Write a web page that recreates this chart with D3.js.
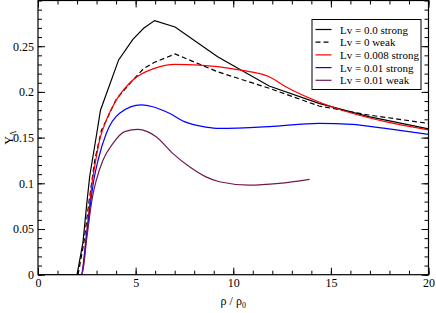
<!DOCTYPE html>
<html>
<head>
<meta charset="utf-8">
<script src="https://cdn.jsdelivr.net/npm/d3@7"></script>
<style>
  body { margin: 0; background: white; }
  text { font-family: "Liberation Serif", "Times New Roman", serif; }
</style>
</head>
<body>
<div id="chart"></div>
<script>
// curves: [rho/rho0, Y_Lambda]
const lv0Strong = [[0,0],[2.0,0],[2.3,0.035],[2.5,0.078],[2.65,0.108],[2.99,0.152],[3.2,0.18],[4.13,0.235],[4.86,0.2575],[5.41,0.2696],[5.97,0.278],[7.02,0.271],[9.2,0.2385],[11.84,0.2065],[14.39,0.1875],[16.94,0.173],[20,0.1595]];
const lv0Weak = [[0,0],[2.05,0],[2.35,0.035],[2.6,0.078],[2.91,0.1255],[3.25,0.158],[3.67,0.1766],[4.01,0.192],[4.86,0.213],[5.41,0.2255],[5.97,0.2324],[7.02,0.2415],[9.2,0.222],[11.84,0.204],[14.39,0.1846],[16.94,0.1747],[20,0.1655]];
const lv008Strong = [[0,0],[2.2,0],[2.5,0.048],[2.79,0.1036],[2.96,0.1255],[3.16,0.1474],[3.5,0.169],[4.01,0.191],[4.86,0.213],[5.97,0.2258],[7.02,0.2302],[8.27,0.2294],[9.2,0.2276],[10.3,0.224],[11.84,0.2166],[12.69,0.2057],[14.39,0.189],[16.09,0.1766],[17.79,0.1674],[20,0.1585]];
const lv01Strong = [[0,0],[2.22,0],[2.5,0.045],[2.86,0.1036],[3.08,0.1255],[3.5,0.1547],[4.18,0.1766],[5.29,0.1857],[5.88,0.1838],[6.73,0.1766],[7.5,0.1675],[8.6,0.1615],[9.29,0.160],[11.84,0.162],[14.39,0.1656],[16.09,0.1645],[17.79,0.160],[20,0.1536]];
const lv01Weak = [[0,0],[2.25,0],[2.5,0.04],[2.79,0.085],[2.99,0.1036],[3.33,0.1255],[3.84,0.1437],[4.44,0.1565],[5.12,0.159],[5.6,0.1565],[6.05,0.151],[6.9,0.1328],[7.76,0.118],[8.6,0.107],[9.29,0.1017],[10.82,0.098],[12.35,0.100],[13.91,0.1044]];

const seriesNames = ['Lv = 0.0 strong', 'Lv = 0 weak', 'Lv = 0.008 strong', 'Lv = 0.01 strong', 'Lv = 0.01 weak'];
const xTicks = [0, 5, 10, 15, 20];
const yTicks = [0, 0.05, 0.1, 0.15, 0.2, 0.25];

const series = [
  { name: seriesNames[0], values: lv0Strong, color: '#000000', dash: null, smooth: false },
  { name: seriesNames[1], values: lv0Weak, color: '#000000', dash: '5,3', smooth: false },
  { name: seriesNames[2], values: lv008Strong, color: '#ff0000', dash: null, smooth: true },
  { name: seriesNames[3], values: lv01Strong, color: '#0000ff', dash: null, smooth: true },
  { name: seriesNames[4], values: lv01Weak, color: '#701a55', dash: null, smooth: true }
];

const width = 436;
const height = 313;
const margin = { top: 0.5, right: 7.5, bottom: 38.3, left: 38 };

const svg = d3.select('#chart')
  .append('svg')
  .attr('width', width)
  .attr('height', height);

const x = d3.scaleLinear().domain([0, 20]).range([margin.left, width - margin.right]);
const y = d3.scaleLinear().domain([0, 0.3]).range([height - margin.bottom, margin.top]);

const x0 = x.range()[0], x1 = x.range()[1];
const y0 = y.range()[0], y1 = y.range()[1];

// ticks on all four sides, pointing inward
const minorX = d3.range(0, 21, 1);
const minorY = d3.range(0, 0.3001, 0.01);

function tickAxis(axis, pos, ticks, size, labels) {
  const g = svg.append('g')
    .attr('transform', pos)
    .call(axis.tickValues(ticks).tickSize(-size).tickPadding(labels ? 4 : 0)
      .tickFormat(labels ? d3.format('') : ''));
  g.select('.domain').remove();
  g.selectAll('line').attr('stroke', '#000').attr('stroke-width', 1);
  g.selectAll('text').style('font-size', '12px').attr('fill', '#000');
  return g;
}

tickAxis(d3.axisBottom(x), `translate(0,${y0})`, minorX, 4, false);
tickAxis(d3.axisBottom(x), `translate(0,${y0})`, xTicks, 7, true);
tickAxis(d3.axisTop(x), `translate(0,${y1})`, minorX, 4, false);
tickAxis(d3.axisTop(x), `translate(0,${y1})`, xTicks, 7, false);
tickAxis(d3.axisLeft(y), `translate(${x0},0)`, minorY, 4, false);
tickAxis(d3.axisLeft(y), `translate(${x0},0)`, yTicks, 7, true);
tickAxis(d3.axisRight(y), `translate(${x1},0)`, minorY, 4, false);
tickAxis(d3.axisRight(y), `translate(${x1},0)`, yTicks, 7, false);

const lineLinear = d3.line().x(d => x(d[0])).y(d => y(d[1]));
const lineSmooth = d3.line().x(d => x(d[0])).y(d => y(d[1])).curve(d3.curveMonotoneX);

svg.append('defs').append('clipPath').attr('id', 'clip')
  .append('rect').attr('x', x0).attr('y', y1).attr('width', x1 - x0).attr('height', y0 - y1);

svg.append('g')
  .attr('clip-path', 'url(#clip)')
  .selectAll('path')
  .data(series)
  .enter()
  .append('path')
  .attr('d', d => (d.smooth ? lineSmooth : lineLinear)(d.values))
  .attr('fill', 'none')
  .attr('stroke', d => d.color)
  .attr('stroke-width', 1.2)
  .attr('stroke-dasharray', d => d.dash);

// frame
svg.append('rect')
  .attr('x', x0).attr('y', y1)
  .attr('width', x1 - x0).attr('height', y0 - y1)
  .attr('fill', 'none').attr('stroke', '#000').attr('stroke-width', 1.2);

// axis titles
const yTitle = svg.append('text')
  .attr('transform', `translate(13,${(y0 + y1) / 2}) rotate(-90)`)
  .attr('text-anchor', 'middle')
  .style('font-size', '12px');
yTitle.append('tspan').text('Y');
yTitle.append('tspan').attr('dy', 3).style('font-size', '8px').text('Λ');

const xTitle = svg.append('text')
  .attr('x', (x0 + x1) / 2)
  .attr('y', 305)
  .attr('text-anchor', 'middle')
  .style('font-size', '12px');
xTitle.append('tspan').text('ρ / ρ');
xTitle.append('tspan').attr('dy', 3).style('font-size', '8px').text('0');

// legend
const legend = svg.append('g').attr('transform', 'translate(312,19.5)');
legend.append('rect')
  .attr('width', 109).attr('height', 70)
  .attr('fill', 'white').attr('stroke', '#000').attr('stroke-width', 1);

const item = legend.selectAll('.legends')
  .data(series)
  .enter()
  .append('g')
  .classed('legends', true)
  .attr('transform', (d, i) => 'translate(0,' + (10 + i * 12.7) + ')');

item.append('line')
  .attr('x1', 3.5).attr('x2', 19.5)
  .attr('stroke', d => d.color)
  .attr('stroke-width', 1.2)
  .attr('stroke-dasharray', d => d.dash);

item.append('text')
  .attr('x', 28).attr('y', 4)
  .style('font-size', '11px')
  .text(d => d.name);
</script>
</body>
</html>
